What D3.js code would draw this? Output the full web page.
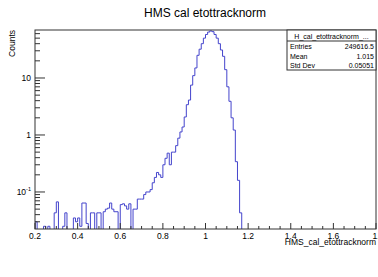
<!DOCTYPE html>
<html lang="en">
<head>
<meta charset="UTF-8">
<title>HMS cal etottracknorm</title>
<script src="https://d3js.org/d3.v7.min.js"></script>
<style>
  body { margin: 0; background: #fff; }
  text { font-family: "Liberation Sans", Arial, sans-serif; }
</style>
</head>
<body>
<svg id="chart" width="378" height="277"></svg>
<script>
// histogram: bins of width 0.01 starting at 0.20
const binStart = 0.20;
const binWidth = 0.01;
const counts = [
  0.03, 0, 0, 0, 0.025, 0, 0.025, 0, 0, 0.043,         // 0.20 - 0.29
  0.067, 0, 0, 0.025, 0.043, 0, 0, 0, 0.035, 0.03,     // 0.30 - 0.39
  0.035, 0.025, 0.064, 0.064, 0.028, 0, 0.043, 0.043, 0, 0.043, // 0.40 - 0.49
  0.043, 0, 0.045, 0.05, 0.052, 0.064, 0.05, 0.045, 0.045, 0,   // 0.50 - 0.59
  0.06, 0.062, 0.057, 0.05, 0.062, 0, 0.05, 0.05, 0.075, 0.075, // 0.60 - 0.69
  0.075, 0.09, 0.1, 0.1, 0.11, 0.145, 0.18, 0.22, 0.2, 0.18,    // 0.70 - 0.79
  0.3, 0.39, 0.48, 0.3, 0.5, 0.5, 0.65, 0.88, 1.13, 1.38,       // 0.80 - 0.89
  2.07, 3.4, 4.1, 7.5, 11, 15, 25, 32, 40, 50,                  // 0.90 - 0.99
  58, 64, 67, 65, 58, 50, 40, 31, 24, 14,                       // 1.00 - 1.09
  7, 3.9, 2.0, 1.22, 0.34, 0.16, 0.043, 0                       // 1.10 - 1.17
];

const xTicks = [0.2, 0.4, 0.6, 0.8, 1, 1.2, 1.4, 1.6, 1.8];
const xTickLabels = ["0.2", "0.4", "0.6", "0.8", "1", "1.2", "1.4", "1.6", "1."];
const yTicks = [0.1, 1, 10];

const statsTitle = "H_cal_etottracknorm_...";
const statsRows = [["Entries", "249616.5"], ["Mean", "1.015"], ["Std Dev", "0.05051"]];

const frame = { left: 35, right: 376, top: 30, bottom: 229 };
const lineColor = "#4444cc";

const svg = d3.select("#chart");

const x = d3.scaleLinear().domain([0.2, 1.8]).range([frame.left, frame.right]);
const y = d3.scaleLog().domain([0.0224, 69.5]).range([frame.bottom, frame.top]);

// title
svg.append("text")
  .attr("x", 205).attr("y", 17)
  .attr("text-anchor", "middle")
  .style("font-size", "12px")
  .text("HMS cal etottracknorm");

// clip for the histogram
svg.append("clipPath").attr("id", "clip")
  .append("rect")
  .attr("x", frame.left).attr("y", frame.top)
  .attr("width", frame.right - frame.left).attr("height", frame.bottom - frame.top);

// step outline
const bottomY = frame.bottom + 5;
const yv = v => v > 0 ? y(v) : bottomY;
let d = `M${x(binStart)},${bottomY}`;
counts.forEach((c, i) => {
  const x0 = x(binStart + i * binWidth), x1 = x(binStart + (i + 1) * binWidth);
  d += `L${x0},${yv(c)}L${x1},${yv(c)}`;
});
d += `L${x(binStart + counts.length * binWidth)},${bottomY}`;

svg.append("path")
  .attr("clip-path", "url(#clip)")
  .attr("d", d)
  .attr("fill", "none")
  .attr("stroke", lineColor)
  .attr("stroke-width", 1);

// frame
svg.append("rect")
  .attr("x", frame.left).attr("y", frame.top)
  .attr("width", frame.right - frame.left).attr("height", frame.bottom - frame.top)
  .attr("fill", "none").attr("stroke", "#333").attr("stroke-width", 1);

// x axis ticks
const xMinor = d3.range(0.2, 1.8001, 0.05);
svg.append("g").selectAll("line").data(xMinor).join("line")
  .attr("x1", v => x(v)).attr("x2", v => x(v))
  .attr("y1", frame.bottom)
  .attr("y2", v => Math.abs(v * 5 - Math.round(v * 5)) < 1e-6 ? frame.bottom - 6 : frame.bottom - 3)
  .attr("stroke", "#333");

svg.append("g").selectAll("text").data(xTicks).join("text")
  .attr("x", v => x(v)).attr("y", 239)
  .attr("text-anchor", "middle")
  .style("font-size", "8.5px")
  .text((v, i) => xTickLabels[i]);

svg.append("text")
  .attr("x", frame.right).attr("y", 245)
  .attr("text-anchor", "end")
  .style("font-size", "8.5px")
  .text("HMS_cal_etottracknorm");

// y axis ticks (log)
const yMinor = [];
[0.01, 0.1, 1, 10].forEach(dec => {
  for (let k = 1; k <= 9; k++) {
    const v = dec * k;
    if (v >= y.domain()[0] && v <= y.domain()[1]) yMinor.push(v);
  }
});
svg.append("g").selectAll("line").data(yMinor).join("line")
  .attr("y1", v => y(v)).attr("y2", v => y(v))
  .attr("x1", frame.left)
  .attr("x2", v => yTicks.includes(v) ? frame.left + 10 : frame.left + 5)
  .attr("stroke", "#333");

const yLab = svg.append("g").selectAll("text").data(yTicks).join("text")
  .attr("x", 31).attr("y", v => y(v) + 3)
  .attr("text-anchor", "end")
  .style("font-size", "8.5px");
yLab.each(function (v) {
  const t = d3.select(this);
  if (v < 1) {
    t.text("10");
    t.append("tspan").attr("dy", -4).style("font-size", "5.5px").text("-1");
  } else {
    t.text(String(v));
  }
});

svg.append("text")
  .attr("transform", `translate(15,${frame.top}) rotate(-90)`)
  .attr("text-anchor", "end")
  .style("font-size", "8.5px")
  .text("Counts");

// stats box
const box = { x: 287, y: 30, w: frame.right - 287, rowH: 9.5 };
const boxH = 10.5 + statsRows.length * box.rowH + 1;
svg.append("rect")
  .attr("x", box.x).attr("y", box.y).attr("width", box.w).attr("height", boxH)
  .attr("fill", "#fff").attr("stroke", "#333");
svg.append("line")
  .attr("x1", box.x).attr("x2", box.x + box.w)
  .attr("y1", box.y + 11).attr("y2", box.y + 11)
  .attr("stroke", "#333");
svg.append("text")
  .attr("x", box.x + box.w / 2).attr("y", box.y + 8.5)
  .attr("text-anchor", "middle")
  .style("font-size", "7px")
  .text(statsTitle);
statsRows.forEach((r, i) => {
  const by = box.y + 19 + i * box.rowH;
  svg.append("text").attr("x", box.x + 3).attr("y", by)
    .style("font-size", "7px").text(r[0]);
  svg.append("text").attr("x", box.x + box.w - 2).attr("y", by)
    .attr("text-anchor", "end")
    .style("font-size", "7px").text(r[1]);
});
</script>
</body>
</html>
